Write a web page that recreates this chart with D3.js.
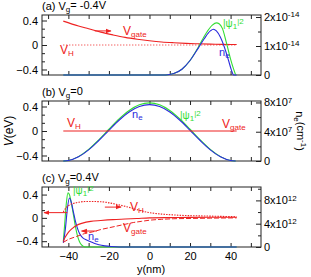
<!DOCTYPE html>
<html><head><meta charset="utf-8">
<script src="https://cdn.jsdelivr.net/npm/d3@7"></script>
<style>
body{margin:0;background:#fff}
text{font-family:"Liberation Sans",Arial,sans-serif;}
</style></head>
<body><svg id="chart" width="311" height="277"></svg>
<script>
// ---------- data ----------
const xTicksMajor = [-40, -20, 0, 20, 40];
const xTicksMinor = [-50, -30, -10, 10, 30, 50];
const leftTicksMajor = [-0.4, 0, 0.4];
const leftTicksMinor = [-0.2667, -0.1333, 0.1333, 0.2667];

// panel (a) Vg=-0.4V
const aVgate = [[-42.5,0.39],[-35,0.31],[-30,0.265],[-24,0.21],[-18,0.165],[-12,0.125],[-6,0.095],[0,0.07],[6,0.05],[12,0.037],[18,0.027],[24,0.02],[30,0.015],[36,0.011],[43,0.008]];
const aVH = [[-42.5,0],[43,0]];
const aPsi = [[-42.5,0],[8,0],[12,0.05],[16,0.2],[20,0.5],[24,0.95],[28,1.45],[31,1.72],[33,1.8],[34.5,1.76],[36,1.6],[38,1.1],[40,0.55],[41.5,0.2],[42.5,0]];
const aNe = [[-42.5,0],[8,0],[12,0.05],[16,0.2],[20,0.5],[24,0.92],[27,1.25],[30,1.52],[31.5,1.58],[33,1.52],[35,1.3],[37,0.95],[39,0.5],[40.5,0.15],[41.5,0],[43,0]];

// panel (b) Vg=0
const bVH = [[-42.5,0],[43,0]];
const bPsi = [[-42.5,0],[-40,0.07],[-35,0.6],[-30,1.58],[-25,2.89],[-20,4.34],[-15,5.75],[-10,6.91],[-5,7.68],[0,7.95],[5,7.68],[10,6.91],[15,5.75],[20,4.34],[25,2.89],[30,1.58],[35,0.6],[40,0.07],[42.5,0]];
const bNe = [[-42.5,0],[-40,0.07],[-35,0.58],[-30,1.53],[-25,2.8],[-20,4.2],[-15,5.57],[-10,6.7],[-5,7.44],[0,7.7],[5,7.44],[10,6.7],[15,5.57],[20,4.2],[25,2.8],[30,1.53],[35,0.58],[40,0.07],[42.5,0]];

// panel (c) Vg=0.4V
const cVH = [[-42.5,0.1],[-41,0.18],[-39,0.23],[-36,0.26],[-32,0.28],[-27,0.28],[-22,0.27],[-16,0.23],[-10,0.18],[-4,0.12],[0,0.09],[6,0.065],[12,0.05],[18,0.04],[24,0.035],[30,0.03],[36,0.025],[43,0.02]];
const cVtot = [[-42.5,-0.4],[-41.5,-0.33],[-40,-0.25],[-38,-0.18],[-36,-0.13],[-33,-0.09],[-29,-0.06],[-24,-0.045],[-18,-0.03],[-12,-0.02],[-6,-0.01],[0,0],[10,0.005],[20,0.008],[30,0.01],[43,0.01]];
const cVgate = [[-42.5,-0.42],[-40,-0.37],[-36,-0.32],[-32,-0.27],[-28,-0.24],[-24,-0.2],[-20,-0.17],[-16,-0.14],[-12,-0.11],[-8,-0.08],[-4,-0.06],[0,-0.04],[6,-0.025],[12,-0.015],[20,-0.01],[30,-0.005],[43,0]];
const cPsi = [[-42.5,0.9],[-41.8,4],[-41,7.5],[-40.2,9.3],[-39.5,9],[-38.5,7.5],[-37.5,5.5],[-36.5,3.5],[-35.5,1.9],[-34.5,0.9],[-33.5,0.35],[-32.5,0.1],[-31,0],[43,0]];
const cNe = [[-42.5,0.7],[-41.5,3],[-40.5,6.5],[-39.5,8.4],[-38.5,7.6],[-37.5,6],[-36.5,4.4],[-35.5,3.2],[-34.5,2.3],[-33,1.6],[-31,1.2],[-29,0.9],[-27,0.6],[-25,0.4],[-22,0.2],[-19,0.08],[-15,0],[43,0]];

// right-axis tick labels (value, mantissa, exponent)
const rightTicksA = [[0,"0",null],[1,"1x10","-14"],[2,"2x10","-14"]];
const rightTicksB = [[0,"0",null],[4,"4x10","7"],[8,"8x10","7"]];
const rightTicksC = [[0,"0",null],[4,"4x10","12"],[8,"8x10","12"]];
const rightMinorA = [0.5,1.5];
const rightMinorB = [2,6];
const rightMinorC = [2,6,10];

// ---------- drawing ----------
const RED="#ee2222", GREEN="#33dd33", BLUE="#2b2bdd", AX="#222";
const svg = d3.select("#chart");
const defs = svg.append("defs");
defs.append("marker").attr("id","arr").attr("viewBox","0 0 10 10").attr("refX",9).attr("refY",5)
  .attr("markerWidth",6).attr("markerHeight",6).attr("orient","auto-start-reverse")
  .append("path").attr("d","M0,1 L10,5 L0,9 Z").attr("fill",RED);

const x = d3.scaleLinear().domain([-53,55]).range([42,261]);
const H = 60;
const panels = [
  {top:15, yL:[-0.49,0.49], yR:[0,2.07], rt:rightTicksA, rm:rightMinorA},
  {top:101, yL:[-0.49,0.49], yR:[0,8.2], rt:rightTicksB, rm:rightMinorB},
  {top:187, yL:[-0.5,0.53], yR:[0,10.3], rt:rightTicksC, rm:rightMinorC}
];
panels.forEach(p=>{
  p.yl = d3.scaleLinear().domain(p.yL).range([p.top+H,p.top]);
  p.yr = d3.scaleLinear().domain(p.yR).range([p.top+H,p.top]);
});

function styleAxis(g){
  g.select(".domain").remove();
  g.selectAll("line").attr("stroke",AX);
  g.selectAll("text").attr("fill","#000").style("font-size","11px");
}

panels.forEach((p,i)=>{
  const g = svg.append("g");
  g.append("g").attr("transform",`translate(0,${p.top+H})`)
    .call(d3.axisBottom(x).tickValues(xTicksMajor).tickSize(-4).tickPadding(5).tickFormat(i===2?d3.format("d"):""))
    .call(styleAxis);
  g.append("g").attr("transform",`translate(0,${p.top+H})`)
    .call(d3.axisBottom(x).tickValues(xTicksMinor).tickSize(-4).tickFormat("")).call(styleAxis);
  g.append("g").attr("transform",`translate(0,${p.top})`)
    .call(d3.axisTop(x).tickValues(xTicksMajor.concat(xTicksMinor)).tickSize(-4).tickFormat("")).call(styleAxis);
  g.append("g").attr("transform",`translate(${x.range()[0]},0)`)
    .call(d3.axisLeft(p.yl).tickValues(leftTicksMajor).tickSize(-5).tickPadding(4).tickFormat(d=>d===0?"0":d3.format(".1f")(d)))
    .call(styleAxis);
  g.append("g").attr("transform",`translate(${x.range()[0]},0)`)
    .call(d3.axisLeft(p.yl).tickValues(leftTicksMinor).tickSize(-3).tickFormat("")).call(styleAxis);
  g.append("g").attr("transform",`translate(${x.range()[1]},0)`)
    .call(d3.axisRight(p.yr).tickValues(p.rt.map(d=>d[0])).tickSize(-5).tickFormat("")).call(styleAxis);
  g.append("g").attr("transform",`translate(${x.range()[1]},0)`)
    .call(d3.axisRight(p.yr).tickValues(p.rm).tickSize(-3).tickFormat("")).call(styleAxis);
  p.rt.forEach(t=>{
    const tx = g.append("text").attr("x",x.range()[1]+3).attr("y",p.yr(t[0])).attr("dy","0.36em")
      .style("font-size","11px").text(t[1]);
    if(t[2]) tx.append("tspan").attr("dy","-0.45em").style("font-size","8px").text(t[2]);
  });
  g.append("rect").attr("x",x.range()[0]).attr("y",p.top).attr("width",x.range()[1]-x.range()[0]).attr("height",H)
    .attr("fill","none").attr("stroke",AX).attr("stroke-width",1);
});

const line = (xs, ys) => d3.line().x(d=>xs(d[0])).y(d=>ys(d[1])).curve(d3.curveMonotoneX);
function draw(data, ys, color, dash, w){
  svg.append("path").datum(data).attr("d", line(x, ys)).attr("fill","none")
    .attr("stroke",color).attr("stroke-width",w||1.1).attr("stroke-dasharray",dash||null);
}
const [pa,pb,pc] = panels;
draw(aVH, pa.yl, RED, "1,2", 1);
draw(aVgate, pa.yl, RED);
draw(aPsi, pa.yr, GREEN);
draw(aNe, pa.yr, BLUE);
draw(bPsi, pb.yr, GREEN);
draw(bNe, pb.yr, BLUE);
draw(bVH, pb.yl, RED);
draw(cPsi, pc.yr, GREEN);
draw(cNe, pc.yr, BLUE);
draw(cVH, pc.yl, RED, "1.5,1.2", 1.1);
draw(cVtot, pc.yl, RED);
draw(cVgate, pc.yl, RED, "5,2", 1);

function arrow(p, x0, x1, v){
  svg.append("line").attr("x1",x(x0)).attr("x2",x(x1)).attr("y1",p.yl(v)).attr("y2",p.yl(v))
    .attr("stroke",RED).attr("stroke-width",1).attr("marker-end","url(#arr)");
}
arrow(pa, -27, -19, 0.23);
arrow(pc, -40.5, -52, 0.09);
arrow(pc, -26, -33.5, -0.226);
arrow(pc, -22, -14, 0.185);

function lab(px, py, main, sub, sup, color, size){
  const t = svg.append("text").attr("x",px).attr("y",py).attr("fill",color).style("font-size",(size||11)+"px").text(main);
  if(sub) t.append("tspan").attr("dy","0.3em").style("font-size","8px").text(sub);
  if(sup) { t.append("tspan").attr("dy", sub?"-0.9em":"-0.45em").style("font-size","8px").text(sup); }
  return t;
}
function title(py, rest){
  const t = svg.append("text").attr("x",42).attr("y",py).style("font-size","11px").text("(" + rest[0] + ") V");
  t.append("tspan").attr("dy","0.3em").style("font-size","8px").text("g");
  t.append("tspan").attr("dy","-0.3em").text(rest[1]);
}
title(10, ["a","= -0.4V"]);
title(96, ["b","=0"]);
title(182, ["c","=0.4V"]);

lab(123, 35, "V", "gate", null, RED, 12);
lab(60, 54, "V", "H", null, RED, 12);
lab(223, 27, "|\u03c8", "1", null, GREEN, 10).append("tspan").attr("dy","-0.7em").style("font-size","8px").text("|2");
lab(219, 56, "n", "e", null, BLUE, 11);
lab(67, 127, "V", "H", null, RED, 12);
lab(132, 118, "n", "e", null, BLUE, 11);
lab(180, 119, "|\u03c8", "1", null, GREEN, 10).append("tspan").attr("dy","-0.7em").style("font-size","8px").text("|2");
lab(222, 128, "V", "gate", null, RED, 12);
lab(73, 194, "|\u03c8", "1", null, GREEN, 10).append("tspan").attr("dy","-0.7em").style("font-size","8px").text("|2");
lab(130, 211, "V", "H", null, RED, 12);
lab(123, 232, "V", "gate", null, RED, 12);
lab(88, 240, "n", "e", null, BLUE, 11);

svg.append("text").attr("x",151).attr("y",273).attr("text-anchor","middle").style("font-size","11px").text("y(nm)");
const vt = svg.append("text").attr("transform","translate(13,131) rotate(-90)").attr("text-anchor","middle").style("font-size","12px");
vt.append("tspan").style("font-style","italic").text("V");
vt.append("tspan").text("(eV)");
const nt = svg.append("text").attr("transform","translate(296,131) rotate(90)").attr("text-anchor","middle").style("font-size","11px").text("n");
nt.append("tspan").attr("dy","0.3em").style("font-size","8px").text("e");
nt.append("tspan").attr("dy","-0.3em").text("(cm");
nt.append("tspan").attr("dy","-0.45em").style("font-size","8px").text("-1");
nt.append("tspan").attr("dy","0.45em").text(")");
</script></body></html>
